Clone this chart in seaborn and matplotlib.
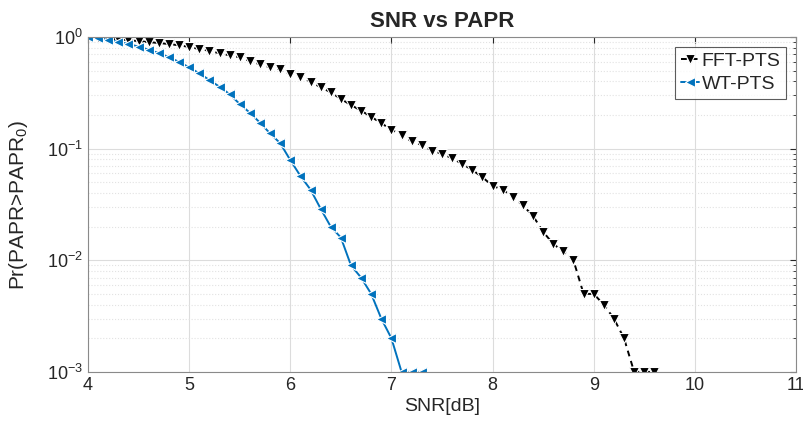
import matplotlib

matplotlib.use("Agg")
import matplotlib.pyplot as plt
import numpy as np
import pandas as pd
import seaborn as sns
from matplotlib.ticker import LogLocator, NullFormatter

# SNR grid, 0.1 dB steps
snr_fft = [round(4.0 + 0.1 * i, 1) for i in range(57)]  # 4.0 .. 9.6
snr_wt = [round(4.0 + 0.1 * i, 1) for i in range(34)]  # 4.0 .. 7.3

ccdf_fft = [
    1.0, 0.986, 0.965, 0.953, 0.939, 0.919, 0.902, 0.884, 0.866, 0.843,
    0.816, 0.781, 0.754, 0.715, 0.686, 0.658, 0.610, 0.570, 0.535, 0.514,
    0.464, 0.441, 0.398, 0.355, 0.320, 0.279, 0.246, 0.219, 0.193, 0.169,
    0.148, 0.133, 0.116, 0.108, 0.096, 0.090, 0.082, 0.073, 0.0645, 0.0554,
    0.0466, 0.0427, 0.0372, 0.031, 0.025, 0.018, 0.014, 0.012, 0.010, 0.005,
    0.005, 0.004, 0.003, 0.002, 0.001, 0.001, 0.001,
]
ccdf_wt = [
    1.0, 0.973, 0.942, 0.906, 0.866, 0.821, 0.771, 0.718, 0.659, 0.599,
    0.535, 0.473, 0.412, 0.359, 0.308, 0.251, 0.210, 0.171, 0.137, 0.112,
    0.079, 0.057, 0.043, 0.029, 0.020, 0.016, 0.009, 0.007, 0.005, 0.003,
    0.002, 0.001, 0.001, 0.001,
]

labels = ["FFT-PTS", "WT-PTS"]
x_ticks = [4, 5, 6, 7, 8, 9, 10, 11]

df = pd.concat(
    [
        pd.DataFrame({"snr": snr_fft, "ccdf": ccdf_fft, "scheme": labels[0]}),
        pd.DataFrame({"snr": snr_wt, "ccdf": ccdf_wt, "scheme": labels[1]}),
    ],
    ignore_index=True,
)

sns.set_style("white")
plt.rcParams["font.family"] = ["Liberation Sans", "DejaVu Sans"]
plt.rcParams["mathtext.fontset"] = "custom"
plt.rcParams["mathtext.rm"] = "Liberation Sans"
plt.rcParams["mathtext.it"] = "Liberation Sans:italic"

fig = plt.figure(figsize=(8.04, 4.36), dpi=100)
ax = fig.add_axes([0.1095, 0.147, 0.8805, 0.768])

sns.lineplot(
    data=df,
    x="snr",
    y="ccdf",
    hue="scheme",
    style="scheme",
    palette={"FFT-PTS": "black", "WT-PTS": "#0072BD"},
    markers={"FFT-PTS": "v", "WT-PTS": "<"},
    dashes={"FFT-PTS": (3, 2.5), "WT-PTS": ""},
    markersize=7.5,
    markeredgewidth=0.8,
    linewidth=1.4,
    ax=ax,
)

ax.set_yscale("log")
ax.set_xlim(4, 11)
ax.set_ylim(1e-3, 1)
ax.set_xticks(x_ticks)
ax.yaxis.set_minor_locator(LogLocator(base=10, subs=np.arange(2, 10)))
ax.yaxis.set_minor_formatter(NullFormatter())

ax.grid(True, which="major", color="#dcdcdc", linewidth=0.8)
ax.grid(True, which="minor", axis="y", color="#e2e2e2", linestyle=":", linewidth=0.8)
for s in ax.spines.values():
    s.set_color("#8a8a8a")
    s.set_linewidth(0.8)
ax.tick_params(axis="both", which="both", direction="in", colors="#262626",
               labelsize=13, top=True, right=True)
ax.tick_params(which="major", length=4)
ax.tick_params(which="minor", length=2)

ax.set_title("SNR vs PAPR", fontsize=16, fontweight="bold", pad=7)
ax.set_xlabel("SNR[dB]", fontsize=14, labelpad=3)
ax.set_ylabel(r"Pr(PAPR>PAPR$_0$)", fontsize=15, labelpad=12)

leg = ax.legend(loc="upper right", fontsize=14, frameon=True, fancybox=False,
                handlelength=0.9, handletextpad=0.15, borderpad=0.3,
                labelspacing=0.25, borderaxespad=0.5)
leg.get_frame().set_edgecolor("#333333")
leg.get_frame().set_linewidth(0.8)

fig.savefig("out.png", dpi=100)
